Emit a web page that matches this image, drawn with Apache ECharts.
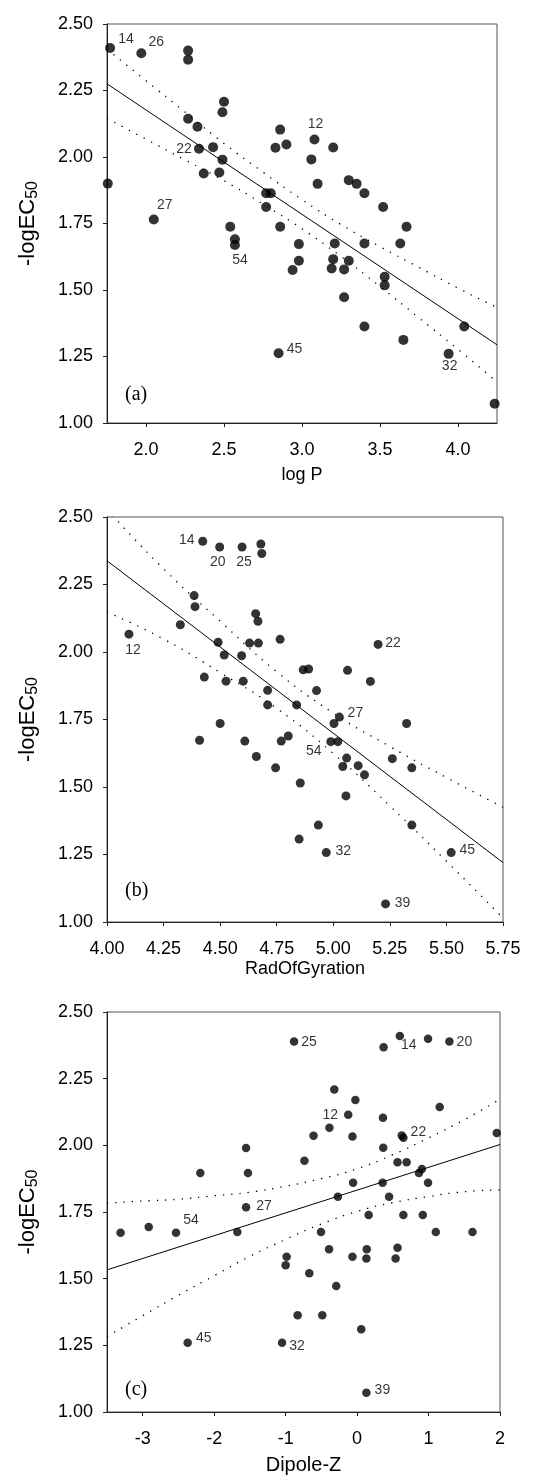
<!DOCTYPE html>
<html>
<head>
<meta charset="utf-8">
<script src="https://cdn.jsdelivr.net/npm/echarts@6/dist/echarts.min.js"></script>
<style>
html,body{margin:0;padding:0;background:#fff;}
#chart{width:536px;height:1476px;}
</style>
</head>
<body>
<div id="chart"></div>
<script>
// ---------- Panel (a): log P ----------
const aX = [1.77,1.97,2.27,2.27,1.755,2.05,2.50,2.49,2.27,2.33,2.34,2.43,2.49,2.37,2.47,2.86,2.83,2.90,3.08,3.06,3.20,3.10,3.30,3.35,3.40,3.52,2.77,2.80,2.77,2.54,2.57,2.57,2.86,2.98,2.98,2.94,3.21,3.20,3.19,3.30,3.27,3.27,3.40,3.40,3.53,3.53,3.63,3.67,3.65,3.94,4.04,4.235,2.85];
const aY = [2.41,2.39,2.40,2.366,1.90,1.765,2.208,2.168,2.144,2.114,2.031,2.037,1.990,1.938,1.942,2.103,2.035,2.047,2.066,1.991,2.036,1.899,1.913,1.899,1.864,1.812,1.864,1.864,1.812,1.7375,1.691,1.669,1.7375,1.6725,1.61,1.575,1.675,1.616,1.581,1.61,1.5775,1.4725,1.675,1.3625,1.55,1.5175,1.675,1.7375,1.3125,1.26,1.3625,1.0725,1.2625];
const aId = ['14','26','','','','27','','','','','22','','','','','','','','12','','','','','','','','','','','','','54','','','','','','','','','','','','','','','','','','32','','','45'];
const aFitX = [1.75, 4.25];
const aFitY = [2.275, 1.294];
const aBandX = [1.75,2.0,2.25,2.5,2.75,3.0,3.25,3.5,3.75,4.0,4.25];
const aBandUp = [2.405,2.287,2.169,2.051,1.943,1.840,1.746,1.663,1.585,1.507,1.434];
const aBandLo = [2.145,2.067,1.989,1.911,1.823,1.730,1.626,1.513,1.395,1.277,1.154];
const aTicks = [2.0,2.5,3.0,3.5,4.0];

// ---------- Panel (b): RadOfGyration ----------
const bX = [4.423,4.498,4.597,4.68,4.684,4.385,4.389,4.324,4.097,4.657,4.667,4.491,4.630,4.669,4.765,5.198,4.518,4.595,4.430,4.526,4.602,4.867,4.891,5.063,5.164,4.71,4.926,4.71,4.838,5.027,5.003,4.50,5.324,4.409,4.609,4.77,4.801,4.989,5.02,4.66,4.745,4.854,5.059,5.042,5.11,5.138,5.261,5.347,5.056,4.934,4.849,4.969,5.347,5.521,5.231];
const bY = [2.41,2.389,2.389,2.40,2.365,2.209,2.168,2.101,2.066,2.142,2.114,2.036,2.033,2.033,2.047,2.028,1.989,1.986,1.907,1.892,1.892,1.934,1.937,1.932,1.891,1.858,1.857,1.804,1.804,1.759,1.735,1.735,1.735,1.673,1.670,1.670,1.689,1.668,1.668,1.613,1.571,1.515,1.607,1.576,1.579,1.545,1.605,1.571,1.467,1.359,1.307,1.257,1.359,1.257,1.067];
const bId = ['14','20','25','','','','','','12','','','','','','','22','','','','','','','','','','','','','','27','','','','','','','','54','','','','','','','','','','','','','','32','','45','39'];
const bFitX = [4.0, 5.75];
const bFitY = [2.338, 1.220];
const bBandX = [4.0,4.25,4.5,4.75,5.0,5.25,5.5,5.75];
const bBandUp = [2.528,2.308,2.114,1.927,1.774,1.650,1.535,1.425];
const bBandLo = [2.148,2.048,1.924,1.791,1.624,1.430,1.225,1.015];

// ---------- Panel (c): Dipole-Z ----------
const cX = [-0.882,0.598,0.371,0.993,1.292,-0.319,-0.024,-0.124,-0.387,0.362,1.156,-0.61,-0.065,0.625,0.648,1.955,-1.554,0.366,-0.737,0.566,0.693,-2.194,-1.527,0.907,0.866,-0.056,0.357,0.993,-0.269,0.448,-1.554,-3.31,-2.916,-2.534,-1.676,-0.505,0.162,0.648,0.92,1.102,1.615,-0.392,0.135,0.566,-0.986,-1.0,-0.065,0.13,0.539,-0.669,-0.292,-0.832,-0.487,0.058,-2.371,-1.05,0.13];
const cY = [2.389,2.41,2.368,2.40,2.389,2.209,2.17,2.115,2.066,2.103,2.144,2.036,2.033,2.037,2.028,2.046,1.99,1.991,1.942,1.937,1.937,1.896,1.896,1.911,1.896,1.86,1.86,1.86,1.807,1.807,1.768,1.6725,1.694,1.6725,1.675,1.675,1.739,1.739,1.739,1.675,1.675,1.61,1.61,1.616,1.5825,1.55,1.5825,1.576,1.576,1.52,1.4725,1.3625,1.3625,1.31,1.26,1.26,1.0725];
const cId = ['25','14','','','20','','','12','','','','','','','22','','','','','','','','','','','','','','','','27','','','54','','','','','','','','','','','','','','','','','','','','','45','32','39'];
const cFitX = [-3.5, 2.0];
const cFitY = [1.533, 2.003];
const cBandX = [-3.5,-3,-2.5,-2,-1.5,-1,-0.5,0,0.5,1,1.5,2];
const cBandUp = [1.783,1.791,1.798,1.811,1.824,1.847,1.875,1.912,1.965,2.028,2.096,2.173];
const cBandLo = [1.283,1.361,1.438,1.511,1.584,1.647,1.705,1.752,1.785,1.808,1.826,1.833];
const cTicks = [-3,-2,-1,0,1,2];

const yTicksLabel = v => v.toFixed(2);

// ---------- styling / layout ----------
const SANS = 'Liberation Sans, Arial, sans-serif';
const SERIF = 'Liberation Serif, Times New Roman, serif';
const labelOffsets = {
  a: {'14':[16,-9],'26':[15,-11],'12':[1,-15],'22':[-15,0],'27':[11,-14],'54':[5,15],'45':[16,-4],'32':[1,12]},
  b: {'14':[-16,-1],'20':[-2,15],'25':[2,15],'12':[4,16],'22':[15,-1],'27':[16,-4],'54':[-17,10],'32':[17,-1],'45':[16,-2],'39':[17,-1]},
  c: {'25':[15,1],'14':[9,9],'20':[15,1],'12':[-18,0],'22':[15,-6],'27':[18,-1],'54':[15,-13],'45':[16,-5],'32':[15,3],'39':[16,-3]}
};
const grids = [
  {left:107, right:39, top:24, height:399},
  {left:107, right:33, top:517, height:405},
  {left:107, right:36, top:1012, height:401}
];
const symSizes = [10, 9, 8.5];

function pts(xs, ys, ids, key) {
  return xs.map((x, i) => {
    const d = {value:[x, ys[i]]};
    const id = ids[i];
    if (id) {
      const off = labelOffsets[key][id];
      d.label = {show:true, formatter:id, position:'inside', offset:off,
                 color:'#000', fontSize:14, fontFamily:SANS};
    }
    return d;
  });
}
function pairs(xs, ys) { return xs.map((x, i) => [x, ys[i]]); }

function yAxis(gi) {
  return {
    gridIndex: gi, type:'value', min:1, max:2.5, interval:0.25,
    name:'{a|-logEC}{b|50}', nameLocation:'middle', nameGap:66, nameRotate:90,
    nameTextStyle:{color:'#000', rich:{
      a:{fontSize:22, fontFamily:SANS, color:'#000', lineHeight:26, verticalAlign:'middle'},
      b:{fontSize:16, fontFamily:SANS, color:'#000', lineHeight:16, verticalAlign:'bottom'}}},
    axisLine:{show:true, onZero:false, lineStyle:{color:'#222', width:1}},
    axisTick:{show:true, length:4, lineStyle:{color:'#222'}},
    axisLabel:{formatter:yTicksLabel, fontSize:18, fontFamily:SANS, color:'#000', margin:14},
    splitLine:{show:false}
  };
}

const xAxes = [
  {gridIndex:0, type:'value', min:1.75, max:4.25, interval:0.25,
   name:'log P', nameGap:43,
   axisLabel:{customValues:aTicks, formatter:v => v.toFixed(1)},
   axisTick:{customValues:aTicks}},
  {gridIndex:1, type:'value', min:4.0, max:5.75, interval:0.25,
   name:'RadOfGyration', nameGap:38,
   axisLabel:{formatter:v => v.toFixed(2)}},
  {gridIndex:2, type:'value', min:-3.5, max:2, interval:0.5,
   name:'Dipole-Z', nameGap:43,
   axisLabel:{customValues:cTicks, formatter:v => String(v)},
   axisTick:{customValues:cTicks}}
].map((ax, i) => Object.assign({
  nameLocation:'middle',
  nameTextStyle:{fontSize: i === 2 ? 20 : 18, fontFamily:SANS, color:'#000'},
  axisLine:{show:true, onZero:false, lineStyle:{color:'#222', width:1}},
  splitLine:{show:false}
}, ax, {
  axisLabel:Object.assign({fontSize:18, fontFamily:SANS, color:'#000', margin:18}, ax.axisLabel),
  axisTick:Object.assign({show:true, length:4, lineStyle:{color:'#222'}}, ax.axisTick || {})
}));

const panels = [
  {key:'a', X:aX, Y:aY, Id:aId, fx:aFitX, fy:aFitY, bx:aBandX, bu:aBandUp, bl:aBandLo},
  {key:'b', X:bX, Y:bY, Id:bId, fx:bFitX, fy:bFitY, bx:bBandX, bu:bBandUp, bl:bBandLo},
  {key:'c', X:cX, Y:cY, Id:cId, fx:cFitX, fy:cFitY, bx:cBandX, bu:cBandUp, bl:cBandLo}
];

const series = [];
panels.forEach((p, i) => {
  const dotted = {color:'#000', width:1.3, type:[1.3, 7]};
  series.push({type:'line', xAxisIndex:i, yAxisIndex:i, data:pairs(p.bx, p.bu), smooth:true,
    showSymbol:false, symbol:'none', lineStyle:dotted, clip:true, silent:true, z:1});
  series.push({type:'line', xAxisIndex:i, yAxisIndex:i, data:pairs(p.bx, p.bl), smooth:true,
    showSymbol:false, symbol:'none', lineStyle:dotted, clip:true, silent:true, z:1});
  series.push({type:'line', xAxisIndex:i, yAxisIndex:i, data:pairs(p.fx, p.fy),
    showSymbol:false, symbol:'none', lineStyle:{color:'#000', width:1}, silent:true, z:2});
  series.push({type:'scatter', xAxisIndex:i, yAxisIndex:i, data:pts(p.X, p.Y, p.Id, p.key),
    symbol:'circle', symbolSize:symSizes[i], itemStyle:{color:'#000'}, silent:true, z:3});
});

const chart = echarts.init(document.getElementById('chart'), null, {renderer:'canvas'});
chart.setOption({
  animation:false,
  backgroundColor:'#fff',
  grid: grids.map(g => Object.assign({show:true, borderColor:'#555', borderWidth:1, backgroundColor:'transparent'}, g)),
  xAxis: xAxes,
  yAxis: [yAxis(0), yAxis(1), yAxis(2)],
  graphic: [
    {type:'text', left:125, top:385, style:{text:'(a)', font:'20px ' + SERIF, fill:'#000'}},
    {type:'text', left:125, top:881, style:{text:'(b)', font:'20px ' + SERIF, fill:'#000'}},
    {type:'text', left:125, top:1380, style:{text:'(c)', font:'20px ' + SERIF, fill:'#000'}}
  ],
  series: series
});
</script>
</body>
</html>
